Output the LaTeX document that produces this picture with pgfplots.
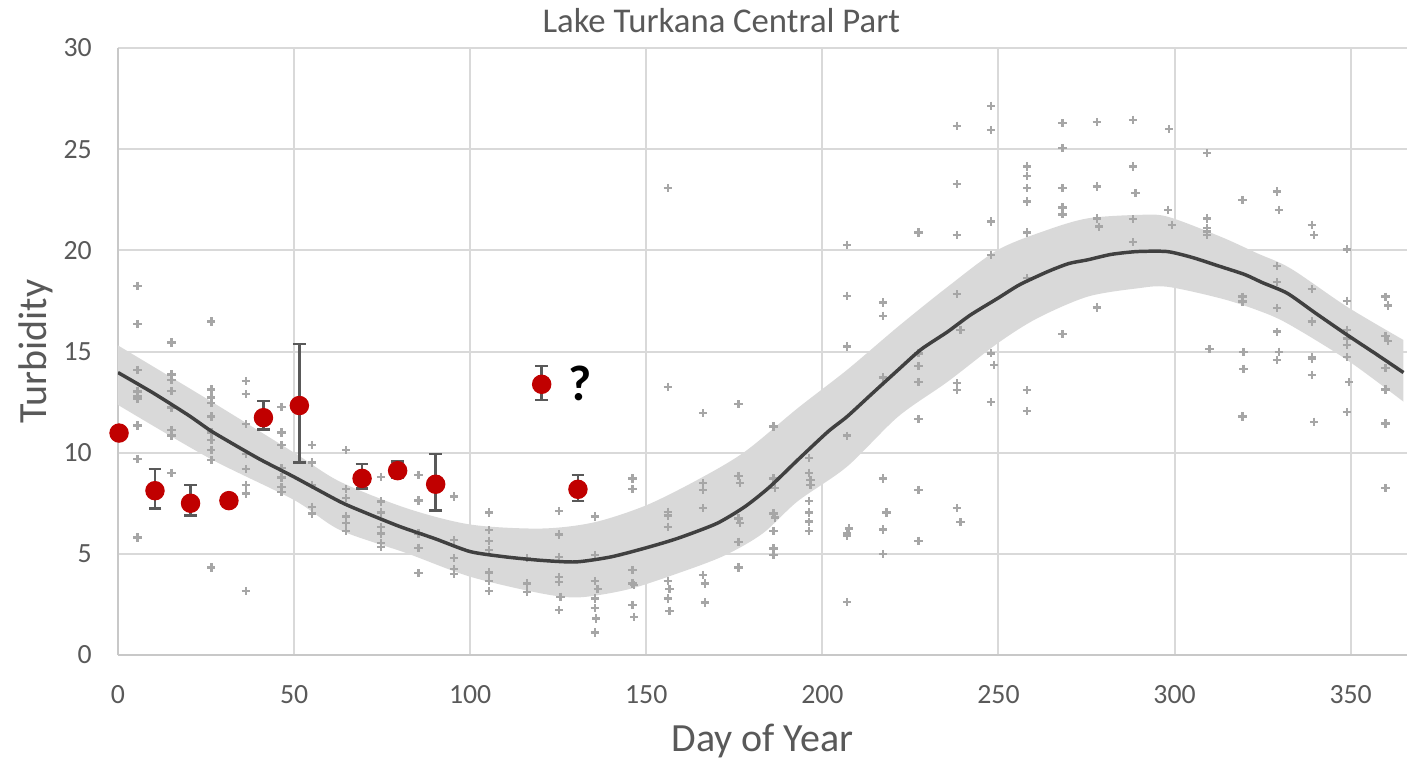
\documentclass[border=0pt]{standalone}
\usepackage{fontspec}
\setmainfont{Carlito}
\usepackage{pgfplots}
\usepackage{pgfplotstable}
\pgfplotsset{compat=1.18}
\usepgfplotslibrary{fillbetween}
\definecolor{bandc}{HTML}{D9D9D9}
\definecolor{linec}{HTML}{404040}
\definecolor{plusc}{HTML}{A6A6A6}
\definecolor{redc}{HTML}{C00000}
\definecolor{errc}{HTML}{595959}
\definecolor{gridc}{HTML}{D9D9D9}
\definecolor{axisc}{HTML}{C8C8C8}
\definecolor{labc}{HTML}{595959}

\pgfplotstableread{
x y
5.5 18.25
5.5 16.36
5.5 14.09
5.5 13.02
5.5 12.77
5.5 12.65
5.5 11.34
5.5 9.69
5.5 5.80
15.2 15.44
15.2 13.86
15.2 13.59
15.2 13.05
15.2 12.24
15.2 11.12
15.2 10.84
15.2 9.01
26.5 16.48
26.5 13.13
26.5 12.72
26.5 12.44
26.5 11.78
26.5 10.99
26.5 10.63
26.5 10.13
26.5 9.64
26.5 4.32
36.3 13.54
36.3 12.89
36.3 11.42
36.3 9.94
36.3 9.19
36.3 8.40
36.3 7.99
36.3 3.16
46.4 12.27
46.4 10.99
46.4 10.38
46.4 9.23
46.4 8.78
46.4 8.29
46.4 8.07
55.1 10.38
55.1 9.52
55.1 8.40
55.1 7.33
55.1 7.00
64.8 10.13
64.8 8.19
64.8 7.75
64.8 6.84
64.8 6.51
64.8 6.13
74.7 8.81
74.7 7.58
74.7 7.05
74.7 6.34
74.7 6.01
74.7 5.52
74.7 5.35
85.3 8.90
85.3 7.63
85.3 6.01
85.3 5.30
85.3 4.04
95.4 7.83
95.4 5.68
95.4 4.78
95.4 4.25
95.4 3.99
105.4 7.05
105.4 6.18
105.4 5.65
105.4 5.19
105.4 4.08
105.4 3.66
105.4 3.16
116.2 4.78
116.2 3.54
116.2 3.10
125.2 7.12
125.2 5.96
125.2 4.83
125.2 3.84
125.2 3.62
125.2 2.22
125.6 2.88
135.4 6.84
135.4 4.94
135.4 3.66
136.2 3.25
135.4 2.80
135.4 2.31
135.8 1.81
135.4 1.12
146.1 8.73
146.1 8.19
146.1 4.20
146.1 3.54
146.6 3.46
146.1 2.47
146.6 1.89
156.1 23.08
156.1 13.26
156.1 7.08
156.1 6.89
156.1 6.34
156.1 3.66
156.6 3.25
156.1 2.80
156.6 2.19
166.1 11.95
166.1 8.49
166.1 8.16
166.1 7.25
166.1 3.95
166.6 3.54
166.6 2.60
176.2 12.39
176.2 8.85
176.6 8.49
176.2 6.75
176.6 6.51
176.2 5.60
176.2 4.32
186.1 11.29
186.1 8.73
186.6 8.24
186.1 7.00
186.6 6.79
186.1 6.13
186.1 5.27
186.1 4.94
196.2 9.75
196.2 9.01
196.6 8.65
196.6 8.40
196.2 7.61
196.2 7.05
196.2 6.59
196.2 6.13
207.0 20.27
207.0 17.75
207.0 15.24
207.0 10.84
207.6 6.26
207.0 6.01
207.0 5.88
207.0 2.62
217.2 17.42
217.2 16.77
217.2 13.71
217.2 8.73
218.2 7.05
217.2 6.21
217.2 4.99
227.3 20.89
227.3 14.91
227.3 14.28
227.3 13.48
227.3 11.65
227.3 8.16
227.3 5.65
238.2 26.15
238.2 23.27
238.2 20.76
238.2 17.83
239.2 16.07
238.2 13.43
238.2 13.10
238.2 7.25
239.2 6.56
247.9 27.14
247.9 25.95
247.9 21.42
247.9 19.77
247.9 14.91
248.8 14.34
247.9 12.49
258.1 24.14
258.1 23.68
258.1 23.07
258.1 22.41
258.1 20.88
258.1 18.62
258.1 13.10
258.1 12.06
268.2 26.28
268.2 25.05
268.2 23.07
268.2 22.11
268.2 21.78
268.2 15.85
277.9 26.33
277.9 23.15
277.9 21.58
278.6 21.17
277.9 17.17
288.2 26.45
288.2 24.14
288.9 22.82
288.2 21.55
288.2 20.40
298.5 26.00
298.2 22.00
299.2 21.26
309.3 24.80
309.3 21.58
309.3 21.09
309.3 20.93
309.3 20.76
309.9 15.11
319.3 22.49
319.3 17.71
319.3 17.47
319.6 14.96
319.6 14.14
319.3 11.78
329.1 22.90
329.6 22.00
329.1 19.23
329.1 18.42
329.1 17.14
329.1 15.98
329.6 14.99
329.1 14.58
339.0 21.26
339.6 20.76
339.0 18.08
339.0 16.48
339.0 14.72
339.0 14.66
339.0 13.84
339.6 11.53
348.9 20.05
348.9 17.51
348.9 16.07
348.9 15.65
348.9 15.32
348.9 14.72
349.6 13.48
348.9 12.00
359.9 17.71
360.6 17.27
359.9 15.77
360.6 15.52
359.9 14.17
359.9 13.13
359.9 11.45
359.9 8.24
}\scatterdata

\pgfplotstableread{
x y
0 13.96
10 12.95
20 11.85
26 11.12
30 10.70
40 9.70
50 8.80
63 7.58
70 7.05
80 6.35
90 5.75
100 5.11
110 4.85
120 4.68
130 4.60
140 4.85
150 5.30
159 5.77
170 6.50
178 7.33
185 8.30
193 9.64
201.6 11.04
207 11.78
214 12.90
221.5 14.09
228 15.10
235.6 15.98
242 16.80
249.8 17.63
256 18.30
264 18.95
270 19.35
275.3 19.53
282 19.80
289.4 19.94
297.9 19.94
305 19.65
313 19.20
320 18.80
325 18.40
332 17.88
340 16.90
349 15.82
357 14.90
365 13.96
}\fitdata

\pgfplotstableread{
x y
0 15.30
26 12.58
50 10.00
63 8.57
82 7.25
100 6.45
120 6.25
135 6.55
150 7.40
165 8.70
178 10.05
193 12.20
207 14.09
221.5 16.23
235.6 18.20
249.8 20.02
263.9 21.01
275.3 21.58
289.4 21.75
297.9 21.67
313 20.68
323.4 19.86
333 19.10
348.9 17.22
365 15.57
}\upperdata

\pgfplotstableread{
x y
0 12.36
26 9.72
50 7.66
63 6.18
82 5.03
100 3.87
120 3.05
131 2.85
145 3.25
159 4.04
172 4.90
183 6.00
193 7.60
207 9.31
221.5 11.78
235.6 13.51
249.8 15.41
261 16.64
275.3 17.71
289.4 18.12
297.9 18.20
313 17.63
323.4 17.05
332 16.39
349 14.58
365 12.52
}\lowerdata

\begin{document}
\begin{tikzpicture}
\begin{axis}[
  at={(0,0)}, anchor=south west,
  scale only axis, width=464.04pt, height=218.52pt,
  xmin=0, xmax=366, ymin=0, ymax=30,
  xtick={0,50,...,350}, ytick={0,5,...,30},
  grid=major, major grid style={draw=gridc, line width=0.72pt},
  axis lines=left,
  axis line style={-, draw=axisc, line width=0.8pt},
  major tick length=0pt,
  tick label style={font=\fontsize{10}{12}\selectfont, text=labc},
  /pgf/number format/assume math mode=true,
  yticklabel style={xshift=-5.9pt},
  xticklabel style={yshift=-7.5pt},
  title={Lake Turkana Central Part},
  title style={font=\fontsize{12.5}{15}\selectfont, text=labc, at={(axis description cs:0.468,1)}, anchor=base, yshift=-0.3pt},
  xlabel={Day of Year},
  xlabel style={font=\fontsize{14.4}{17}\selectfont, text=labc, at={(axis description cs:0.5,0)}, anchor=base, yshift=-34.8pt},
  ylabel={Turbidity},
  ylabel style={font=\fontsize{14.4}{17}\selectfont, text=labc, at={(axis description cs:-0.0551,0.5)}, anchor=base},
  clip mode=individual,
]
\addplot[name path=upper, draw=none, smooth, forget plot] table[x=x,y=y] {\upperdata};
\addplot[name path=lower, draw=none, smooth, forget plot] table[x=x,y=y] {\lowerdata};
\addplot[fill=bandc, draw=none] fill between[of=upper and lower];
\addplot[only marks, mark=+, mark size=1.5pt, mark options={draw=plusc, line width=0.85pt}] table[x=x,y=y] {\scatterdata};
\addplot[linec, line width=1.25pt, mark=none, smooth, tension=0.4] table[x=x,y=y] {\fitdata};
\addplot[draw=none, mark=none,
  error bars/.cd, y dir=both, y explicit,
  error bar style={draw=errc, line width=0.9pt},
  error mark options={draw=errc, line width=0.9pt, mark size=2.3pt, rotate=90}]
  coordinates {
(10.5,8.12) += (0,1.07) -= (0,0.87)
(20.6,7.50) += (0,0.90) -= (0,0.61)
(41.3,11.73) += (0,0.83) -= (0,0.59)
(51.5,12.33) += (0,3.04) -= (0,2.81)
(69.3,8.73) += (0,0.71) -= (0,0.49)
(79.4,9.11) += (0,0.45) -= (0,0.36)
(90.2,8.44) += (0,1.50) -= (0,1.30)
(120.3,13.38) += (0,0.91) -= (0,0.78)
(130.6,8.19) += (0,0.71) -= (0,0.58)
};
\addplot[only marks, mark=*, mark size=3.3pt, mark options={draw=redc, fill=redc}] coordinates {
(0.3,10.97) (10.5,8.12) (20.6,7.50) (31.5,7.63) (41.3,11.73) (51.5,12.33)
(69.3,8.73) (79.4,9.11) (90.2,8.44) (120.3,13.38) (130.6,8.19)};
\node[text=black, font=\bfseries\fontsize{18}{20}\selectfont] at (axis cs:131.3,13.4) {?};
\end{axis}
\pgfresetboundingbox
\path (-42.48pt,-38.16pt) rectangle (466.92pt,235.8pt);
\end{tikzpicture}
\end{document}
